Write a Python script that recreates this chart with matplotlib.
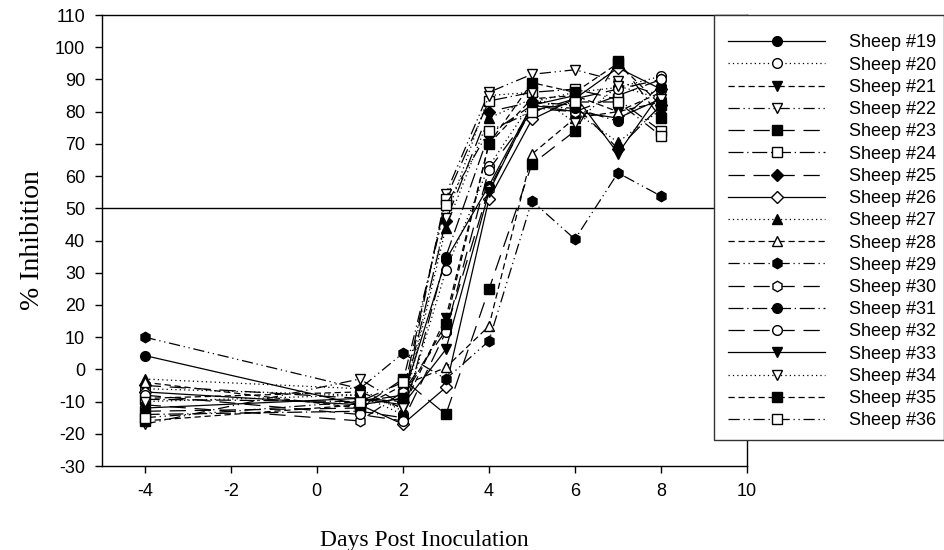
import matplotlib
matplotlib.use("Agg")
import matplotlib.pyplot as plt
from matplotlib.patches import Rectangle

days = [-4, 1, 2, 3, 4, 5, 6, 7, 8]

sheep_labels = ["Sheep #19", "Sheep #20", "Sheep #21", "Sheep #22", "Sheep #23", "Sheep #24",
                "Sheep #25", "Sheep #26", "Sheep #27", "Sheep #28", "Sheep #29", "Sheep #30",
                "Sheep #31", "Sheep #32", "Sheep #33", "Sheep #34", "Sheep #35", "Sheep #36"]

s19 = [4.3, -11, -9, 34, 57, 82, 80, 78, 84]
s20 = [-6, -8, -14, 30.7, 63, 83, 86, 87.5, 91]
s21 = [-9, -7, -12, 16, 70, 84, 85, 80, 86]
s22 = [-17, -3, -11, 54.5, 86, 91.6, 93, 89.5, 85]
s23 = [-13, -12, -3, -14, 24.8, 63.7, 74, 95.8, 78]
s24 = [-9.3, -10, -8, 53, 83.3, 86, 87, 83.8, 74]
s25 = [-5, -9, -10, 46, 80, 83, 82, 68.5, 82]
s26 = [-7, -11, -17, -5.6, 52.8, 77.6, 84, 93.6, 87]
s27 = [-3, -6, -13, 44, 78, 84, 80, 70.5, 80.7]
s28 = [-4, -12, -5, 0.6, 13.4, 66.8, 78, 80, 83]
s29 = [10, -6, 5, -3, 8.8, 52.3, 40.4, 61, 53.8]
s30 = [-11, -16, -7, 12, 56, 81, 80, 85, 90]
s31 = [-14, -13, -15, 35, 73, 82, 81, 77, 88]
s32 = [-8, -14, -16, 11.6, 62, 80, 84, 87, 90]
s33 = [-12, -9, -11, 6.2, 55, 82, 85, 67, 86]
s34 = [-10, -8, -12, 47, 85, 86, 76.6, 88, 84]
s35 = [-16, -11, -9, 14, 70, 89, 86, 95, 82]
s36 = [-15, -10, -4, 51, 74, 80, 83, 83, 72.5]

series = [s19, s20, s21, s22, s23, s24, s25, s26, s27, s28, s29, s30,
          s31, s32, s33, s34, s35, s36]

SOLID = "-"
DOT = (0, (1, 2.5))
DASH = (0, (5, 3))
DDOT = (0, (9, 3, 1, 3, 1, 3))
LDASH = (0, (13, 7))
DASHDOT = (0, (12, 3, 1, 3))

styles = [
    ("o", True, SOLID), ("o", False, DOT), ("v", True, DASH), ("v", False, DDOT),
    ("s", True, LDASH), ("s", False, DASHDOT), ("D", True, LDASH), ("D", False, SOLID),
    ("^", True, DOT), ("^", False, DASH), ("h", True, DDOT), ("h", False, LDASH),
    ("o", True, DASHDOT), ("o", False, LDASH), ("v", True, SOLID), ("v", False, DOT),
    ("s", True, DASH), ("s", False, DDOT),
]

plt.rcParams["font.family"] = ["Liberation Sans", "DejaVu Sans"]
plt.rcParams["axes.unicode_minus"] = False

W, H = 945.0, 550.0
fig = plt.figure(figsize=(9.45, 5.5), dpi=100)
ax = fig.add_axes([0.1076, 0.1527, 0.7905 - 0.1076, 0.9727 - 0.1527])

ax.axhline(50, color="black", lw=1.0, zorder=1)

handles = []
for vals, lab, (mk, filled, ls) in zip(series, sheep_labels, styles):
    ms = 6.2 if mk == "D" else (7.5 if mk == "h" else 7)
    h, = ax.plot(days, vals, linestyle=ls, color="black", lw=0.9,
                 marker=mk, markersize=ms, markeredgewidth=1.0,
                 markeredgecolor="black",
                 markerfacecolor="black" if filled else "white",
                 label=lab, zorder=3)
    handles.append(h)

ax.set_xlim(-5, 10)
ax.set_ylim(-30, 110)
ax.set_xticks(range(-4, 11, 2))
ax.set_yticks(range(-30, 111, 10))
ax.tick_params(direction="out", length=5, width=1, labelsize=13, color="black", pad=7)
for sp in ax.spines.values():
    sp.set_linewidth(1.0)
    sp.set_color("black")

ax.set_xlabel("Days Post Inoculation", fontsize=17, family=["Liberation Serif"], labelpad=22)
ax.set_ylabel("% Inhibition", fontsize=20, family=["Liberation Serif"], labelpad=7)

# legend box (drawn separately so its size matches the reference)
box = Rectangle((714 / W, 1 - 440 / H), (944 - 714) / W, (440 - 15) / H,
                transform=fig.transFigure, facecolor="white", edgecolor="#333333",
                linewidth=1.0, zorder=4)
fig.patches.append(box)

leg = fig.legend(handles=handles, loc="upper left",
                 bbox_to_anchor=(718 / W, 1 - 24.5 / H),
                 fontsize=13, handlelength=5.4, handletextpad=1.3,
                 labelspacing=0.29, borderpad=0.55, borderaxespad=0.0,
                 frameon=False, markerfirst=True)
leg.set_zorder(5)

fig.savefig("out.png", dpi=100)
